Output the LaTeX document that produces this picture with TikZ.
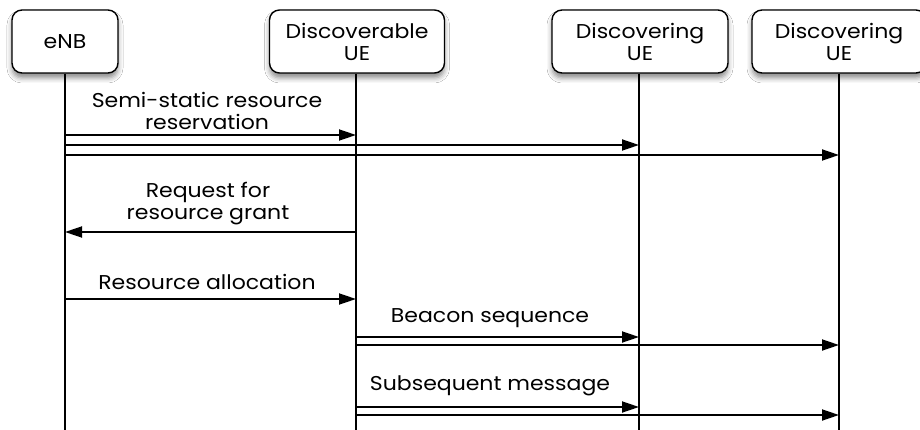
\documentclass[tikz,border=0pt]{standalone}
\usepackage{fontspec}
\setmainfont[FakeStretch=1.1]{Poppins}
\usetikzlibrary{arrows.meta,shadows.blur}
\begin{document}
\begin{tikzpicture}[x=1pt,y=-1pt,
  actor/.style={draw=black,line width=1.4pt,rounded corners=10pt,fill=white,
    minimum height=63pt,align=center,inner sep=0pt,
    font=\fontsize{20}{22}\selectfont,
    blur shadow={shadow xshift=0pt,shadow yshift=-5pt,shadow blur radius=5pt,shadow opacity=45}},
  life/.style={line width=1.3pt},
  msg/.style={line width=1.8pt,-{Triangle[length=17pt,width=11pt]}},
  lbl/.style={align=center,font=\fontsize{20}{22}\selectfont,inner sep=0pt}]
\useasboundingbox (0,0) rectangle (920,430);
\fill[white] (0,0) rectangle (920,430);
% actors
\node[actor,minimum width=106pt] (enb) at (65,41.5) {eNB};
\node[actor,minimum width=175pt] (dle) at (357,41.5) {Discoverable\\UE};
\node[actor,minimum width=176pt] (dg1) at (640,41.5) {Discovering\\UE};
\node[actor,minimum width=174pt] (dg2) at (839,41.5) {Discovering\\UE};
% lifeline ends
\coordinate (enbE) at (65,432);
\coordinate (dleE) at (356,432);
\coordinate (dg1E) at (639,432);
\coordinate (dg2E) at (839,432);
\draw[life] (enb.south -| enbE) -- (enbE);
\draw[life] (dle.south -| dleE) -- (dleE);
\draw[life] (dg1.south -| dg1E) -- (dg1E);
\draw[life] (dg2.south -| dg2E) -- (dg2E);
% message endpoints
\foreach \y/\n in {135/a,145/b,155/c,232/d,299/e,337/f,345/g,407/h,415/i}{
  \coordinate (enb\n) at (65,\y);
  \coordinate (dle\n) at (356,\y);
  \coordinate (dga\n) at (639,\y);
  \coordinate (dgb\n) at (839,\y);
}
% messages
\draw[msg] (enba) -- (dlea);
\draw[msg] (enbb) -- (dgab);
\draw[msg] (enbc) -- (dgbc);
\node[lbl] (l1) at (207,111) {Semi-static resource\\reservation};
\draw[msg] (dled) -- (enbd);
\node[lbl] (l2) at (208,204) {Request for\\resource grant};
\draw[msg] (enbe) -- (dlee);
\node[lbl] (l3) at (207,282) {Resource allocation};
\draw[msg] (dlef) -- (dgaf);
\draw[msg] (dleg) -- (dgbg);
\node[lbl] (l4) at (490,318) {Beacon sequence};
\draw[msg] (dleh) -- (dgah);
\draw[msg] (dlei) -- (dgbi);
\node[lbl] (l5) at (490,386) {Subsequent message};
\end{tikzpicture}
\end{document}
